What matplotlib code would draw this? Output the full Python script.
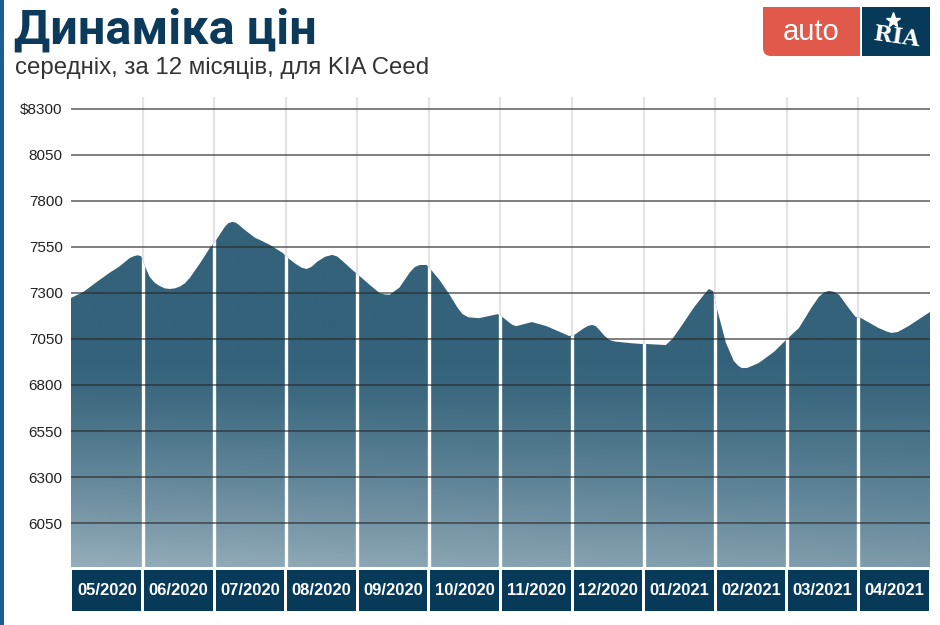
import numpy as np
import matplotlib
matplotlib.use('Agg')
import matplotlib.pyplot as plt
from matplotlib.patches import Rectangle, FancyBboxPatch

plt.rcParams['font.family'] = ['Liberation Sans', 'DejaVu Sans']

months = ['05/2020', '06/2020', '07/2020', '08/2020', '09/2020', '10/2020',
          '11/2020', '12/2020', '01/2021', '02/2021', '03/2021', '04/2021']

# position in months from the start of 05/2020, price in $
pos = [0.0, 0.17, 0.36, 0.54, 0.68, 0.82, 0.88, 0.93, 0.98, 1.0, 1.05, 1.10, 1.17,
       1.24, 1.31, 1.38, 1.45, 1.52, 1.59, 1.66, 1.80, 1.94, 2.01, 2.15, 2.20,
       2.25, 2.29, 2.33, 2.43, 2.57, 2.64, 2.78, 2.96, 3.01, 3.15, 3.22, 3.29,
       3.36, 3.44, 3.55, 3.65, 3.72, 3.79, 3.93, 4.00, 4.17, 4.31, 4.38, 4.45,
       4.59, 4.73, 4.80, 4.87, 4.97, 5.01, 5.15, 5.29, 5.40, 5.47, 5.55, 5.70,
       5.96, 6.01, 6.12, 6.17, 6.22, 6.30, 6.44, 6.64, 6.82, 6.96, 7.03, 7.17,
       7.23, 7.28, 7.33, 7.38, 7.45, 7.52, 7.60, 7.80, 7.96, 8.03, 8.31, 8.40,
       8.49, 8.70, 8.84, 8.91, 8.97, 9.01, 9.15, 9.26, 9.32, 9.37, 9.45, 9.61,
       9.82, 9.99, 10.17, 10.35, 10.45, 10.53, 10.59, 10.66, 10.73, 10.86, 10.96,
       11.03, 11.28, 11.40, 11.46, 11.55, 11.70, 12.0]
price = [7273, 7305, 7360, 7410, 7445, 7490, 7500, 7505, 7500, 7480, 7430, 7387, 7355,
         7338, 7325, 7322, 7325, 7335, 7352, 7382, 7460, 7545, 7577, 7660, 7680,
         7686, 7684, 7675, 7642, 7600, 7588, 7561, 7517, 7496, 7455, 7438, 7430,
         7442, 7470, 7497, 7507, 7498, 7475, 7425, 7403, 7345, 7300, 7292, 7290,
         7330, 7410, 7440, 7452, 7452, 7435, 7370, 7290, 7220, 7185, 7168, 7163,
         7185, 7175, 7140, 7126, 7120, 7128, 7142, 7120, 7090, 7066, 7072, 7110,
         7122, 7126, 7120, 7100, 7068, 7045, 7036, 7028, 7023, 7023, 7017, 7050,
         7099, 7220, 7290, 7322, 7310, 7235, 7028, 6930, 6905, 6892, 6893, 6920,
         6980, 7045, 7110, 7224, 7280, 7305, 7311, 7306, 7290, 7220, 7170,
         7165, 7110, 7090, 7083, 7088, 7120, 7197]

yticks = [6050, 6300, 6550, 6800, 7050, 7300, 7550, 7800, 8050, 8300]
ytick_labels = ['6050', '6300', '6550', '6800', '7050', '7300', '7550', '7800', '8050', '$8300']

ymin, ymax = 5811, 8365

fig = plt.figure(figsize=(9.4, 6.25), dpi=100)
ax = fig.add_axes([71 / 940, (625 - 567) / 625, 859 / 940, 470 / 625])
ax.set_xlim(0, 12)
ax.set_ylim(ymin, ymax)

# light vertical grid behind
for k in range(1, 12):
    ax.axvline(k, color='#e4e4e4', lw=1.6, zorder=0)

# gradient fill clipped to the area
xs = np.linspace(0, 12, 300)
ys = np.linspace(ymin, ymax, 300)
X, Y = np.meshgrid(xs, ys)
t = np.clip((6950 - Y) / (6950 - ymin), 0, 1) ** 1.25
t = t * (1 - 0.25 * (X / 12))
top = np.array([0x33, 0x62, 0x7a]) / 255
bot = np.array([0x95, 0xad, 0xba]) / 255
img = top[None, None, :] * (1 - t[..., None]) + bot[None, None, :] * t[..., None]
poly = ax.fill_between(pos, price, ymin, color='none', lw=0)
im = ax.imshow(img, extent=[0, 12, ymin, ymax], origin='lower', aspect='auto', zorder=1)
path = poly.get_paths()[0]
im.set_clip_path(path, transform=ax.transData)

# white gaps between months inside the area
for k in range(1, 12):
    ln = ax.axvline(k, color='white', lw=2.4, zorder=2)
    ln.set_clip_path(path, transform=ax.transData)

# horizontal grid
for v in yticks:
    ax.axhline(v, color='#2a2a2a', alpha=0.6, lw=1.4, zorder=3)

ax.set_yticks(yticks)
ax.set_yticklabels(ytick_labels, fontsize=11, color='#222222')
ax.tick_params(axis='y', length=0, pad=6)
ax.set_xticks([])
for s in ax.spines.values():
    s.set_visible(False)

# month boxes
bx = fig.add_axes([71 / 940, (625 - 611) / 625, 859 / 940, 41 / 625])
bx.set_xlim(0, 12)
bx.set_ylim(0, 1)
centers = np.arange(len(months)) + 0.5
bx.bar(centers, [1] * len(months), width=0.96, color='#073a59', edgecolor='none')
for c, m in zip(centers, months):
    bx.text(c, 0.5, m, ha='center', va='center', color='white',
            fontsize=12, fontweight='bold')
bx.axis('off')

# overlay for header decorations (pixel coordinates)
ov = fig.add_axes([0, 0, 1, 1], zorder=5)
ov.set_xlim(0, 940)
ov.set_ylim(625, 0)
ov.axis('off')
ov.add_patch(Rectangle((0, 0), 4, 625, color='#1e5d96', lw=0))

ov.text(14, 30, 'Динаміка цін', fontsize=35, fontweight='bold', color='#0b3a5a',
        va='center', ha='left', family=['Roboto', 'DejaVu Sans'])
ov.text(15, 68, 'середніх, за 12 місяців, для KIA Ceed', fontsize=17.3, color='#333333',
        va='center', ha='left')

# logo
ov.add_patch(FancyBboxPatch((763 + 8, 7 + 8), 97 - 16, 49 - 16,
                            boxstyle='round,pad=8', color='#e0594b', lw=0))
ov.add_patch(Rectangle((763, 7), 97, 25, color='#e0594b', lw=0))
ov.add_patch(Rectangle((811, 7), 49, 49, color='#e0594b', lw=0))
ov.text(811, 32, 'auto', fontsize=21, color='white', ha='center', va='center')
ov.add_patch(Rectangle((862, 7), 68, 49, color='#073a59', lw=0))
ov.text(897, 37, 'RIA', fontsize=16, color='white', ha='center', va='center',
        fontweight='bold', family='DejaVu Serif', rotation=-8)
ov.plot([893], [20], marker='*', color='white', markersize=11)

fig.savefig('out.png', dpi=100)
